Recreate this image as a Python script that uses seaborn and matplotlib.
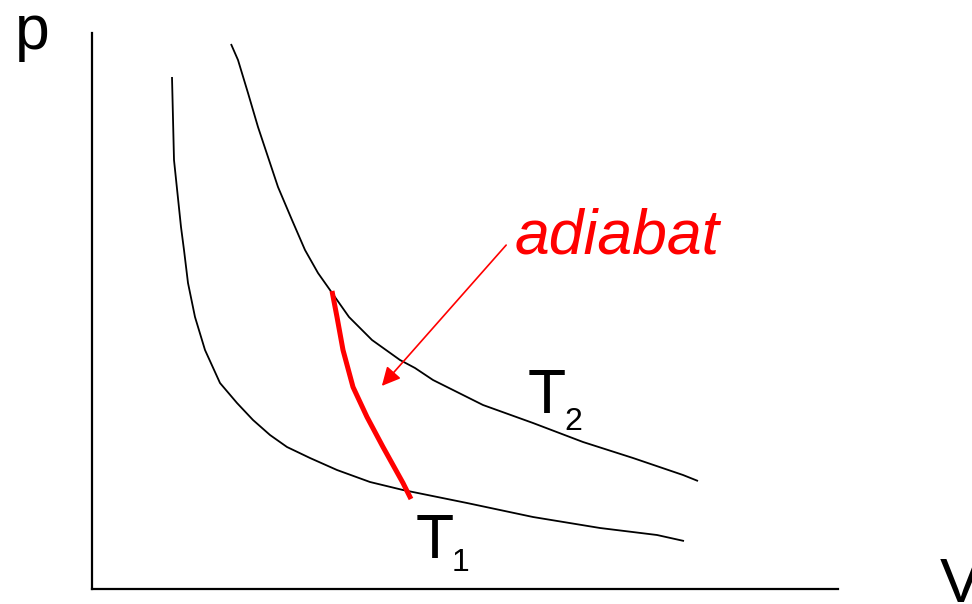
import numpy as np
import pandas as pd
import matplotlib
matplotlib.use("Agg")
import matplotlib.pyplot as plt
import seaborn as sns

# values, arbitrary units (V to the right, p upwards)
# isotherm T1
t1_v = [80, 82, 89, 92, 96, 103, 113, 128, 145, 161, 178, 195, 218, 245,
        278, 311, 375, 441, 508, 565, 592]
t1_p = [512, 429, 362, 339, 306, 272, 239, 206, 186, 169, 154, 142, 131, 119,
        107, 99, 86, 72, 61, 54, 48]

# isotherm T2
t2_v = [139, 146, 156, 166, 176, 186, 200, 213, 226, 238, 257, 280, 308, 323,
        341, 391, 441, 491, 541, 591, 606]
t2_p = [545, 529, 496, 462, 432, 402, 369, 339, 316, 299, 272, 249, 229, 221,
        209, 184, 166, 147, 131, 114, 108]

# adiabat between the two isotherms
ad_v = [240, 245, 251, 261, 275, 291, 311, 319]
ad_p = [298, 272, 239, 202, 172, 142, 106, 90]

v_max, p_max = 746, 556

sns.set_style("white")
plt.rcParams['font.family'] = ['Liberation Sans', 'DejaVu Sans']
plt.rcParams['text.color'] = 'black'

fig = plt.figure(figsize=(9.72, 6.04), dpi=100)
ax = fig.add_axes([92 / 972, 15 / 604, 746 / 972, 556 / 604])

df1 = pd.DataFrame({"V": t1_v, "p": t1_p})
df2 = pd.DataFrame({"V": t2_v, "p": t2_p})
dfa = pd.DataFrame({"V": ad_v, "p": ad_p})

sns.lineplot(data=df1, x="V", y="p", sort=False, color="black", lw=1.3, ax=ax)
sns.lineplot(data=df2, x="V", y="p", sort=False, color="black", lw=1.3, ax=ax)
sns.lineplot(data=dfa, x="V", y="p", sort=False, color="red", lw=3.6, ax=ax)
for ln in ax.lines:
    ln.set_solid_capstyle("butt")
    ln.set_solid_joinstyle("round")

ax.set_xlim(0, v_max)
ax.set_ylim(0, p_max)
ax.set_xticks([])
ax.set_yticks([])
ax.set_xlabel("")
ax.set_ylabel("")
sns.despine(ax=ax)
for s in ["left", "bottom"]:
    ax.spines[s].set_color("black")
    ax.spines[s].set_linewidth(1.6)

# arrow pointing to the adiabat
ax.annotate("", xy=(288, 201), xytext=(416, 346),
            arrowprops=dict(arrowstyle="-|>", color="red", lw=1.2, mutation_scale=28))

big = 45
small = 23
ax.text(423, 336, "adiabat", color="red", style="italic", fontsize=45,
        ha="left", va="baseline")
ax.text(436, 176, "T", color="black", fontsize=big, ha="left", va="baseline", clip_on=False)
ax.text(472, 159, "2", color="black", fontsize=small, ha="left", va="baseline", clip_on=False)
ax.text(324, 31, "T", color="black", fontsize=big, ha="left", va="baseline", clip_on=False)
ax.text(360, 18, "1", color="black", fontsize=small, ha="left", va="baseline", clip_on=False)
ax.text(-77, 540, "p", color="black", fontsize=big, ha="left", va="baseline", clip_on=False)
ax.text(848, -13, "V", color="black", fontsize=big, ha="left", va="baseline", clip_on=False)

fig.savefig("out.png", dpi=100)
